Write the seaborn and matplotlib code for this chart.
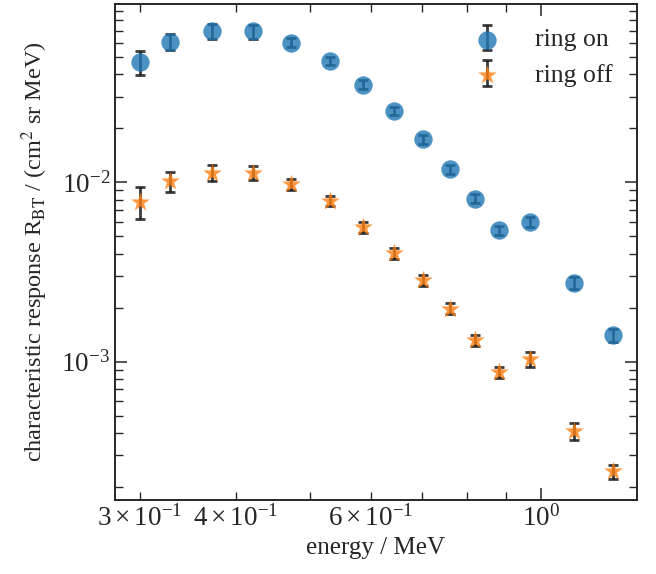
import numpy as np
import pandas as pd
import matplotlib
matplotlib.use("Agg")
import matplotlib.pyplot as plt
import seaborn as sns
from matplotlib.legend_handler import HandlerTuple

# ---- data ----
energy = [0.300, 0.328, 0.3725, 0.421, 0.4726, 0.530, 0.5865, 0.643, 0.702,
          0.761, 0.821, 0.882, 0.9685, 1.105, 1.240]
ring_on = [0.0467, 0.0608, 0.0695, 0.0692, 0.0600, 0.0474, 0.0350, 0.0250,
           0.0174, 0.0118, 0.0081, 0.00541, 0.0060, 0.00274, 0.00140]
ring_on_err = [0.0072, 0.0063, 0.0065, 0.0060, 0.0036, 0.0024, 0.0019, 0.0014,
               0.0010, 0.00068, 0.00046, 0.00032, 0.00036, 0.00021, 0.00011]
ring_off = [0.0078, 0.0101, 0.01128, 0.0113, 0.00975, 0.00787, 0.00563, 0.00401,
            0.00285, 0.00197, 0.00131, 0.000872, 0.00103, 0.000408, 0.000244]
ring_off_err = [0.0016, 0.0013, 0.00117, 0.00096, 0.00070, 0.00055, 0.00040,
                0.00028, 0.00020, 0.00014, 0.000095, 0.000065, 0.000097,
                0.000044, 0.000022]
labels = ["ring on", "ring off"]

sns.set_style("ticks")
plt.rcParams["font.family"] = ["Liberation Serif", "DejaVu Serif"]
plt.rcParams["mathtext.fontset"] = "stix"
plt.rcParams.update({
    "xtick.direction": "in", "ytick.direction": "in",
    "xtick.top": True, "ytick.right": True,
    "xtick.major.size": 8.5, "ytick.major.size": 8.5,
    "xtick.minor.size": 5.8, "ytick.minor.size": 5.8,
    "xtick.major.width": 1.1, "ytick.major.width": 1.1,
    "xtick.minor.width": 1.0, "ytick.minor.width": 1.0,
    "xtick.labelsize": 19.5, "ytick.labelsize": 19.5,
    "axes.linewidth": 1.4,
    "font.size": 18,
})

fig = plt.figure(figsize=(6.56, 5.74), dpi=100)
ax = fig.add_axes([115/656, 1-500/574, (637-115)/656, (500-4)/574])

df_on = pd.DataFrame({"energy": energy, "R": ring_on, "err": ring_on_err})
df_off = pd.DataFrame({"energy": energy, "R": ring_off, "err": ring_off_err})

handles = []
for df, marker, size, color in [(df_on, "o", 175, "C0"), (df_off, "*", 200, "C1")]:
    eb = ax.errorbar(df["energy"], df["R"], yerr=df["err"], fmt="none",
                     ecolor="#1a1a1a", elinewidth=2.0, capsize=3.6,
                     capthick=2.0, alpha=0.85, zorder=2)
    sns.scatterplot(data=df, x="energy", y="R", marker=marker, s=size,
                    color=color, alpha=0.8, linewidth=0, ax=ax, zorder=3,
                    legend=False)
    sc = ax.collections[-1]
    handles.append((eb, sc))

ax.set_xscale("log")
ax.set_yscale("log")
ax.set_xlim(0.2783, 1.334)
ax.set_ylim(1.69e-4, 0.0985)

ax.set_xlabel("energy / MeV", fontsize=18)
ax.set_ylabel(r"characteristic response R$_{\mathrm{BT}}$ / (cm$^2$ sr MeV)",
              fontsize=17.5, labelpad=8)

ax.legend(handles, labels, handler_map={tuple: HandlerTuple(ndivide=1)},
          loc="upper right", frameon=False, fontsize=18.5,
          handlelength=1.6, handletextpad=1.05, borderaxespad=0.55,
          labelspacing=0.5)

fig.savefig("out.png", dpi=100)
